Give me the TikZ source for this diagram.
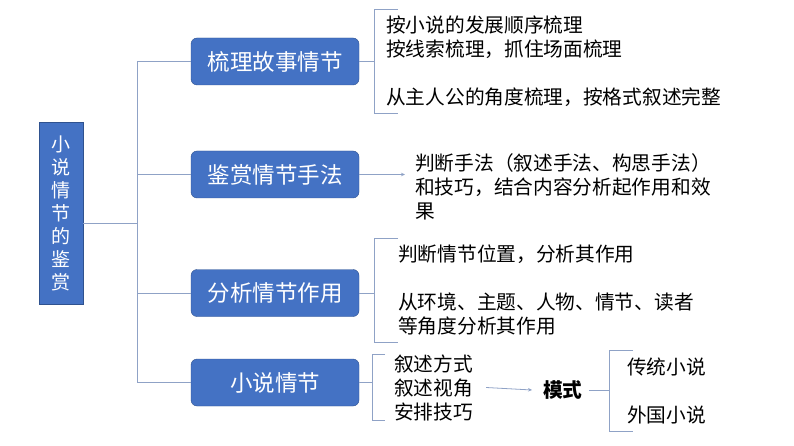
\documentclass[tikz,border=0pt]{standalone}
\usepackage{fontspec}
\setmainfont{Noto Sans CJK SC}
\usepackage{tikz}
\usetikzlibrary{arrows.meta}

\definecolor{boxblue}{HTML}{4472C4}
\definecolor{boxedge}{HTML}{2F528F}
\definecolor{linkgray}{HTML}{8FA2C6}

\tikzset{
  topic/.style={draw=boxedge, fill=boxblue, rounded corners=6pt, minimum width=168pt,
    minimum height=47pt, inner sep=0pt, text=white, font=\fontsize{22.5}{27}\selectfont},
  rootbox/.style={draw=boxedge, fill=boxblue, minimum width=44pt, minimum height=182pt,
    inner sep=0pt, align=center, text=white, font=\fontsize{19}{23}\selectfont},
  note/.style={anchor=west, align=left, inner ysep=0pt, font=\fontsize{19.7}{24}\selectfont},
  link/.style={draw=linkgray, line width=0.8pt},
  pointer/.style={link, -{Stealth[length=4pt,width=3.5pt]}},
}

\begin{document}
\begin{tikzpicture}[x=1pt, y=-1pt]

\useasboundingbox (0,0) rectangle (794,446);

% Root
\node[rootbox] (root) at (61,213) {小\\说\\情\\节\\的\\鉴\\赏};

% Branch boxes
\node[topic] (b1) at (275,61.5) {梳理故事情节};
\node[topic] (b2) at (275,174.5) {鉴赏情节手法};
\node[topic] (b3) at (275,293) {分析情节作用};
\node[topic] (b4) at (275,382.5) {小说情节};

% Trunk
\coordinate (trunk) at (137,0);
\draw[link] ([yshift=-10pt]root.east) -- ([yshift=-10pt]root.east -| trunk);
\draw[link] (b1.west) -- (b1.west -| trunk) -- (b4.west -| trunk) -- (b4.west);
\draw[link] (b2.west) -- (b2.west -| trunk);
\draw[link] (b3.west) -- (b3.west -| trunk);

% Notes
\node[note, inner xsep=12pt, minimum height=103pt] (g1) at (374,61.5)
  {按小说的发展顺序梳理\\按线索梳理，抓住场面梳理\\[24pt]从主人公的角度梳理，按格式叙述完整};
\node[note, inner xsep=10pt] (g2) at (405,187)
  {判断手法（叙述手法、构思手法）\\和技巧，结合内容分析起作用和效\\果};
\node[note, inner xsep=24pt, minimum height=103pt] (g3) at (374,290.5)
  {判断情节位置，分析其作用\\[24pt]从环境、主题、人物、情节、读者\\等角度分析其作用};
\node[note, inner xsep=22pt, minimum height=59pt] (g4) at (372,387.5)
  {叙述方式\\叙述视角\\安排技巧};
\node[note, inner xsep=11pt, font=\fontsize{19.7}{24}\selectfont\bfseries] (mode) at (532,390) {模式};
\node[note, inner xsep=18pt, minimum height=80pt] (g5) at (609,391)
  {传统小说\\[24pt]外国小说};

% Brackets
\draw[link] ([xshift=24pt]g1.north west) -- (g1.north west) -- (g1.south west) -- ++(24pt,0);
\draw[link] ([xshift=24pt]g3.north west) -- (g3.north west) -- (g3.south west) -- ++(24pt,0);
\draw[link] ([xshift=13pt]g4.north west) -- (g4.north west) -- (g4.south west) -- ++(13pt,0);
\draw[link] ([xshift=24pt]g5.north west) -- (g5.north west) -- (g5.south west) -- ++(24pt,0);

% Connectors
\draw[link] (b1.east) -- (b1.east -| g1.west);
\draw[pointer] (b2.east) -- (b2.east -| g2.west);
\draw[link] (b3.east) -- (b3.east -| g3.west);
\draw[link] (b4.east) -- (b4.east -| g4.west);
\draw[pointer] ([xshift=-9pt]g4.east) -- (mode.west);
\draw[link] ([xshift=-5pt]mode.east) -- (mode.east -| g5.west);

\end{tikzpicture}
\end{document}
